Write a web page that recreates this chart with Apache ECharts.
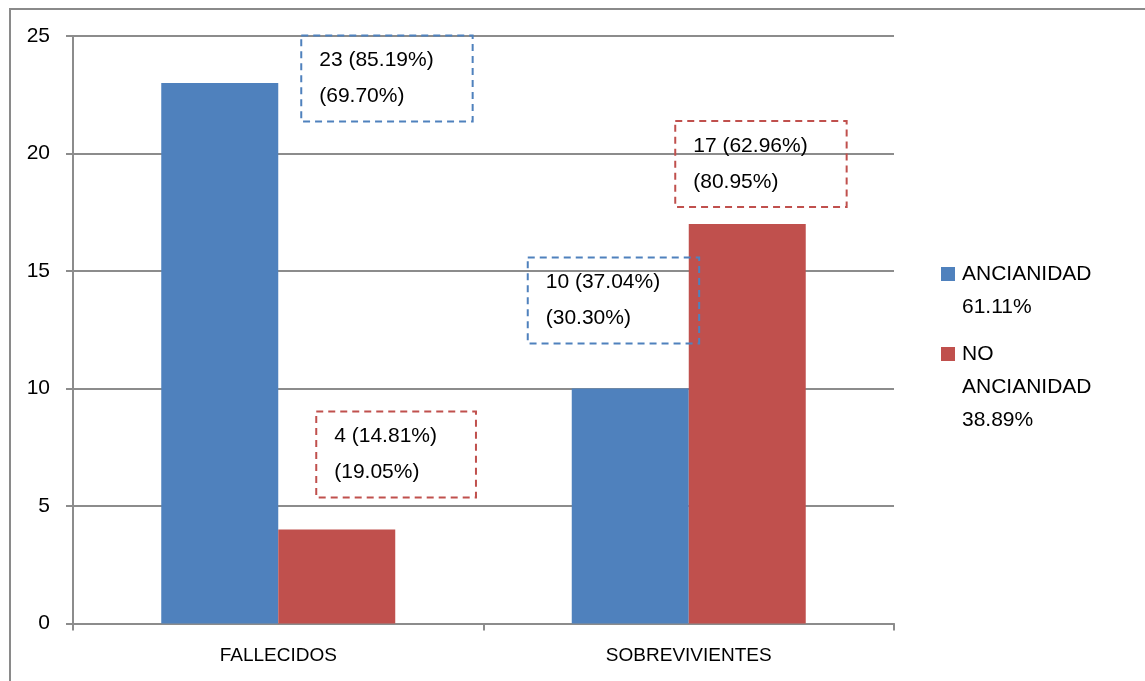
<!DOCTYPE html>
<html>
<head>
<meta charset="utf-8">
<script src="https://cdn.jsdelivr.net/npm/echarts@6/dist/echarts.min.js"></script>
<style>html,body{margin:0;padding:0;background:#fff}#c{width:1145px;height:681px}</style>
</head>
<body>
<div id="c"></div>
<script>
const categories = ['FALLECIDOS', 'SOBREVIVIENTES'];
const seriesNames = ['ANCIANIDAD', 'NO ANCIANIDAD'];
const legendLines = [['ANCIANIDAD', '61.11%'], ['NO', 'ANCIANIDAD', '38.89%']];
const ancianidad = [23, 10];
const noAncianidad = [4, 17];
const ancianidadPctCat = ['85.19%', '37.04%'];
const ancianidadPctSer = ['69.70%', '30.30%'];
const noAncianidadPctCat = ['14.81%', '62.96%'];
const noAncianidadPctSer = ['19.05%', '80.95%'];
const yTicks = [0, 5, 10, 15, 20, 25];

const FONT = 'Liberation Sans';
const BLUE = '#4F81BD', RED = '#C0504D', GRID = '#8c8c8c';

// label box offsets (left-middle of box relative to bar top centre)
const blueOffsets = [[81.5, -4.5], [-102.5, -88]];
const redOffsets = [[-20.5, -75], [-72, -60]];

function labelCfg(color, offset) {
  return {
    show: true, position: 'top', distance: 0, offset: offset,
    align: 'left', verticalAlign: 'middle',
    fontFamily: FONT, fontSize: 21, color: '#000', lineHeight: 36,
    padding: [7, 39, 7, 18],
    borderColor: color, borderWidth: 2, borderType: [7, 5]
  };
}

const blueData = ancianidad.map((v, i) => ({ value: v, label: labelCfg(BLUE, blueOffsets[i]) }));
const redData = noAncianidad.map((v, i) => ({ value: v, label: labelCfg(RED, redOffsets[i]) }));

// leading blank lines so that the first text line sits beside the marker
function legendText(lines) {
  const blanks = [];
  for (let i = 1; i < lines.length; i++) blanks.push(' ');
  return blanks.concat(lines).join('\n');
}

function legendCfg(idx, top) {
  return {
    left: 941, top: top, orient: 'vertical', padding: 0,
    data: [seriesNames[idx]], itemWidth: 14, itemHeight: 14, itemGap: 0,
    icon: 'rect',
    formatter: () => legendText(legendLines[idx]),
    textStyle: { fontFamily: FONT, fontSize: 21, color: '#000', lineHeight: 33, padding: [0, 0, 0, 2] }
  };
}

const chart = echarts.init(document.getElementById('c'));
chart.setOption({
  animation: false,
  backgroundColor: '#fff',
  graphic: [{
    type: 'rect', shape: { x: 10, y: 9, width: 1300, height: 800 },
    style: { fill: 'none', stroke: '#8a8a8a', lineWidth: 2 }, z: -1
  }],
  grid: { left: 73, right: 251, top: 36, bottom: 57.5 },
  legend: [legendCfg(0, 224.5), legendCfg(1, 271.5)],
  xAxis: {
    type: 'category', data: categories,
    axisLine: { lineStyle: { color: GRID, width: 2 } },
    axisTick: { show: true, length: 7, lineStyle: { color: GRID, width: 2 } },
    axisLabel: { fontFamily: FONT, fontSize: 19, color: '#000', margin: 23 }
  },
  yAxis: {
    type: 'value', min: 0, max: 25, interval: 5,
    axisLine: { show: true, lineStyle: { color: GRID, width: 2 } },
    axisTick: { show: true, length: 7, lineStyle: { color: GRID, width: 2 } },
    axisLabel: { fontFamily: FONT, fontSize: 21, color: '#000', margin: 23,
      formatter: v => yTicks.includes(v) ? String(v) : '' },
    splitLine: { lineStyle: { color: GRID, width: 2 } }
  },
  series: [{
    name: seriesNames[0], type: 'bar', data: blueData,
    barWidth: '28.5%', barGap: '0%', itemStyle: { color: BLUE },
    label: { formatter: p => ancianidad[p.dataIndex] + ' (' + ancianidadPctCat[p.dataIndex] + ')\n(' + ancianidadPctSer[p.dataIndex] + ')' }
  }, {
    name: seriesNames[1], type: 'bar', data: redData,
    barWidth: '28.5%', barGap: '0%', itemStyle: { color: RED },
    label: { formatter: p => noAncianidad[p.dataIndex] + ' (' + noAncianidadPctCat[p.dataIndex] + ')\n(' + noAncianidadPctSer[p.dataIndex] + ')' }
  }]
});
</script>
</body>
</html>
